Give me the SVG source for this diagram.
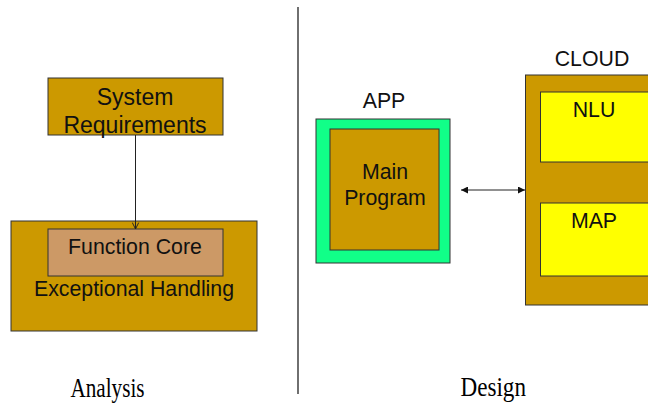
<svg xmlns="http://www.w3.org/2000/svg" width="648" height="407" viewBox="0 0 648 407">
  <style>
    .box { stroke: #333333; stroke-width: 1; }
    .gold { fill: #CC9900; }
    .tan { fill: #CC9966; }
    .green { fill: #11FF88; }
    .yellow { fill: #FFFF00; }
    .lbl { font-family: "Liberation Sans", Arial, sans-serif; font-size: 21.3px; fill: #111111; text-anchor: middle; }
    .big { font-size: 23px; }
    .cap { font-family: "Liberation Serif", "Times New Roman", serif; font-size: 27px; fill: #000000; }
    .wire { stroke: #222222; stroke-width: 1; fill: none; }
  </style>
  <defs>
    <marker id="open" viewBox="0 0 10 10" refX="9" refY="5" markerWidth="8" markerHeight="8" markerUnits="userSpaceOnUse" orient="auto">
      <path d="M1,1 L9,5 L1,9" fill="none" stroke="#222222" stroke-width="1.2"/>
    </marker>
    <marker id="solid" viewBox="0 0 10 10" refX="10" refY="5" markerWidth="8" markerHeight="7" markerUnits="userSpaceOnUse" orient="auto-start-reverse">
      <path d="M0,0 L10,5 L0,10 Z" fill="#111111"/>
    </marker>
  </defs>

  <!-- divider between the two halves -->
  <line x1="298" y1="7" x2="298" y2="394" stroke="#222222" stroke-width="1.3"/>

  <!-- Analysis side -->
  <g id="system-requirements">
    <rect class="box gold" x="48" y="78" width="175" height="57"/>
    <text class="lbl big" x="135" y="105">System</text>
    <text class="lbl big" x="135" y="132.5">Requirements</text>
  </g>

  <g id="exceptional-handling">
    <rect class="box gold" x="11" y="221" width="246" height="110"/>
    <text class="lbl" x="134" y="296">Exceptional Handling</text>
  </g>

  <g id="function-core">
    <rect class="box tan" x="48" y="229" width="175" height="47"/>
    <text class="lbl" x="135" y="254">Function Core</text>
  </g>

  <!-- Design side -->
  <g id="app">
    <text class="lbl" x="384" y="107.5">APP</text>
    <rect class="box green" x="316" y="119" width="134" height="144"/>
  </g>

  <g id="main-program">
    <rect class="box gold" x="330" y="129" width="109" height="121"/>
    <text class="lbl" x="385" y="178.5">Main</text>
    <text class="lbl" x="385" y="204.5">Program</text>
  </g>

  <g id="cloud">
    <text class="lbl" x="592" y="66">CLOUD</text>
    <rect class="box gold" x="525.5" y="75" width="130" height="230"/>
  </g>

  <g id="nlu">
    <rect class="box yellow" x="540.5" y="92" width="120" height="70"/>
    <text class="lbl" x="594" y="116.5">NLU</text>
  </g>

  <g id="map">
    <rect class="box yellow" x="540.5" y="203" width="120" height="73"/>
    <text class="lbl" x="594" y="227.5">MAP</text>
  </g>

  <!-- connectors -->
  <g id="connectors">
    <line class="wire" x1="135.5" y1="135" x2="135.5" y2="229" marker-end="url(#open)"/>
    <line class="wire" x1="461" y1="190" x2="525" y2="190" marker-start="url(#solid)" marker-end="url(#solid)"/>
  </g>

  <!-- section captions -->
  <text class="cap" x="70.5" y="396.5" textLength="74" lengthAdjust="spacingAndGlyphs">Analysis</text>
  <text class="cap" x="460.5" y="396" textLength="65.5" lengthAdjust="spacingAndGlyphs">Design</text>
</svg>
